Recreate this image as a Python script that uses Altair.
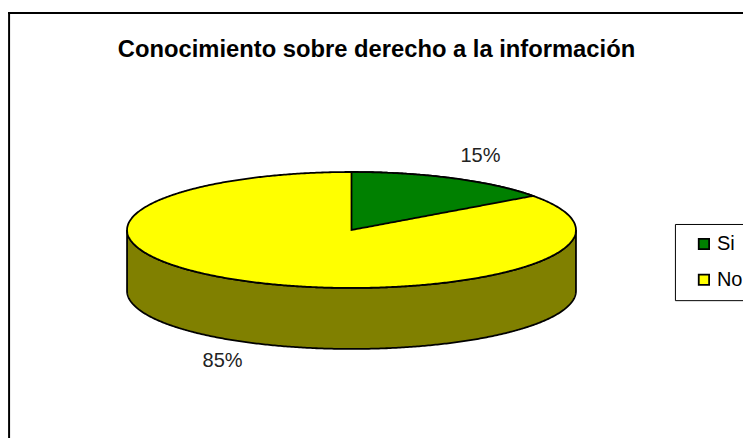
import numpy as np
import pandas as pd
import altair as alt

TITLE = "Conocimiento sobre derecho a la información"
CATEGORIES = ["Si", "No"]
PERCENTS = [15, 85]
COLORS = ["#008000", "#ffff00"]
WALL_COLOR = "#808000"
FONT = "Liberation Sans"

W, H = 743, 436
k = 759 / 751


def px(p):
    return k * p - 8


def py(p):
    return k * (p - 2.4) - 8


DEPTH = 61 / 58  # wall height in units of the ellipse's vertical radius

x_scale = alt.Scale(domain=[-1, 1], range=[px(127), px(576)])
y_scale = alt.Scale(domain=[-1, 1], range=[py(288), py(172)])
color_scale = alt.Scale(domain=CATEGORIES, range=COLORS)

X = alt.X("u:Q", scale=x_scale, axis=None)
Y = alt.Y("top:Q", scale=y_scale, axis=None)
Y2 = alt.Y2("bot:Q")

# slice angle from the value (clockwise from 12 o'clock)
end = np.radians(PERCENTS[0] * 3.6)
half = np.radians(np.linspace(-90, 90, 361))

wall = pd.DataFrame({"u": np.sin(half), "top": -np.cos(half), "bot": -np.cos(half) - DEPTH})
disc = pd.DataFrame({"u": np.sin(half), "top": np.cos(half), "bot": -np.cos(half), "cat": CATEGORIES[1]})
t = np.linspace(0, end, 121)
wedge = pd.DataFrame({"u": np.sin(t), "top": np.cos(t), "bot": np.sin(t) * np.cos(end) / np.sin(end), "cat": CATEGORIES[0]})

mid_si = end / 2
mid_no = end + (2 * np.pi - end) / 2
label_si = pd.DataFrame({"u": [np.sin(mid_si)], "v": [np.cos(mid_si)], "t": [f"{PERCENTS[0]}%"]})
label_no = pd.DataFrame({"u": [np.sin(mid_no)], "v": [np.cos(mid_no)], "t": [f"{PERCENTS[1]}%"]})

color = alt.Color(
    "cat:N",
    scale=color_scale,
    legend=alt.Legend(
        title=None,
        orient="none",
        legendX=px(675),
        legendY=py(224),
        padding=10 * k,
        fillColor="white",
        strokeColor="black",
        symbolType="square",
        symbolSize=110,
        symbolStrokeColor="black",
        symbolStrokeWidth=1.8,
        symbolOffset=9 * k,
        labelFont=FONT,
        labelFontSize=20 * k,
        labelColor="black",
        labelOffset=3 * k,
        rowPadding=15 * k,
        labelExpr="datum.label + '        '",
    ),
)

LINE = 1.8
wall_layer = alt.Chart(wall).mark_area(fill=WALL_COLOR, stroke="black", strokeWidth=LINE).encode(x=X, y=Y, y2=Y2)
disc_layer = alt.Chart(disc).mark_area(stroke="black", strokeWidth=LINE, opacity=1).encode(x=X, y=Y, y2=Y2, color=color)
wedge_layer = alt.Chart(wedge).mark_area(stroke="black", strokeWidth=LINE, opacity=1).encode(x=X, y=Y, y2=Y2, color=color)


def label(df, dx, dy):
    return alt.Chart(df).mark_text(
        font=FONT, fontSize=20 * k, color="#222222", dx=dx * k, dy=dy * k
    ).encode(x=X, y=alt.Y("v:Q", scale=y_scale, axis=None), text="t:N")


top_rule = alt.Chart(wall.head(1)).mark_rule(color="black", strokeWidth=2).encode(
    x=alt.value(0), x2=alt.value(W), y=alt.value(py(13))
)
left_rule = alt.Chart(wall.head(1)).mark_rule(color="black", strokeWidth=2).encode(
    x=alt.value(px(9)), y=alt.value(py(12)), y2=alt.value(H)
)

chart = (
    alt.layer(
        wall_layer, disc_layer, wedge_layer,
        label(label_si, 27, -22), label(label_no, -27, 79),
        top_rule, left_rule,
    )
    .properties(
        width=W,
        height=H,
        padding=0,
        background="white",
        autosize=alt.AutoSizeParams(type="none"),
        title=alt.TitleParams(
            TITLE, font=FONT, fontSize=24 * k * 0.99, fontWeight="bold", color="black",
            anchor="middle", frame="group", baseline="top", offset=0, dx=1, dy=52,
        ),
    )
    .configure_view(stroke=None)
)

chart.save("out.html", embed_options={"renderer": "svg", "actions": False})
